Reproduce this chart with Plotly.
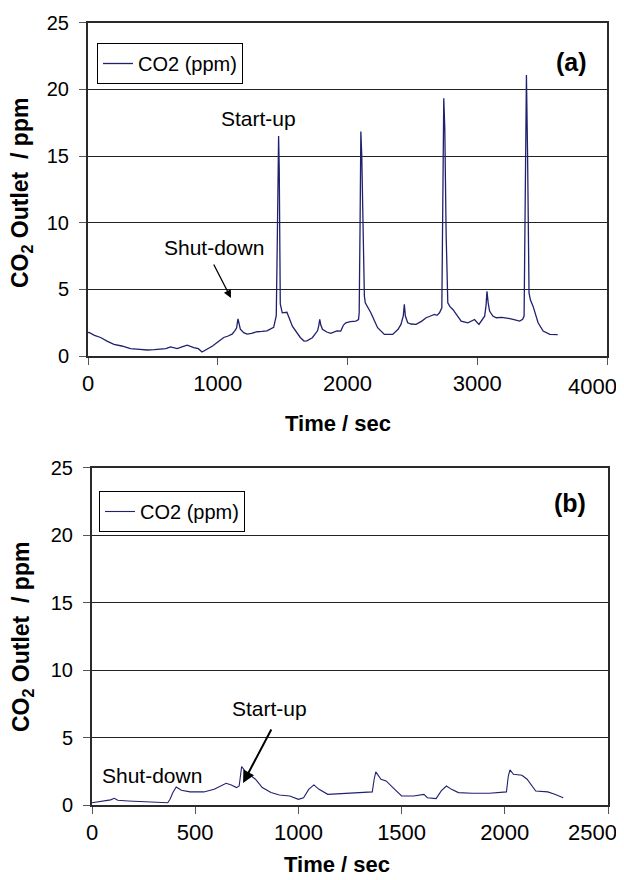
import plotly.graph_objects as go

# ---------------- data ----------------
time_a = [0, 8, 50, 97, 150, 200, 260, 328, 400, 456, 510, 559, 600, 636, 687, 730, 764, 815, 850,
          879, 918, 960, 995, 1046, 1080, 1110, 1131, 1145, 1156, 1165, 1174, 1200, 1226, 1260, 1303,
          1340, 1379, 1431, 1451, 1458, 1464, 1469, 1474, 1478, 1482, 1497, 1533, 1575, 1610, 1636,
          1665, 1687, 1729, 1769, 1779, 1786, 1795, 1807, 1840, 1871, 1918, 1948, 1969, 1987, 2021,
          2064, 2085, 2090, 2097, 2103, 2110, 2121, 2130, 2137, 2160, 2180, 2205, 2232, 2284, 2320,
          2348, 2390, 2412, 2430, 2438, 2446, 2464, 2490, 2528, 2570, 2606, 2640, 2670, 2690, 2709,
          2727, 2734, 2742, 2750, 2760, 2773, 2790, 2812, 2845, 2876, 2928, 2955, 2979, 3013, 3040,
          3057, 3068, 3075, 3084, 3095, 3120, 3147, 3190, 3224, 3250, 3276, 3300, 3327, 3350, 3361,
          3370, 3379, 3388, 3399, 3410, 3430, 3469, 3508, 3559, 3580, 3598, 3620]
co2_a = [1.75, 1.77, 1.55, 1.39, 1.1, 0.88, 0.75, 0.56, 0.5, 0.45, 0.48, 0.5, 0.55, 0.68, 0.56, 0.7, 0.81,
         0.63, 0.55, 0.3, 0.5, 0.75, 1.01, 1.39, 1.5, 1.64, 1.89, 2.1, 2.78, 2.4, 2.02, 1.75, 1.64, 1.7, 1.82,
         1.85, 1.89, 2.15, 3.03, 8.0, 14.5, 16.5, 14.0, 8.0, 3.9, 3.24, 3.28, 2.24, 1.7, 1.39, 1.12, 1.14, 1.37,
         1.89, 2.3, 2.74, 2.3, 2.0, 1.8, 1.7, 1.89, 1.87, 2.32, 2.49, 2.58, 2.62, 2.73, 3.24, 10.0, 16.83,
         15.0, 9.2, 4.5, 3.99, 3.6, 3.24, 2.7, 2.12, 1.62, 1.6, 1.62, 2.0, 2.37, 3.0, 3.87, 3.0, 2.49, 2.4,
         2.37, 2.6, 2.87, 3.0, 3.12, 3.05, 3.24, 3.62, 11.0, 19.33, 17.0, 9.23, 3.99, 3.7, 3.49, 3.0, 2.62,
         2.49, 2.6, 2.74, 2.37, 2.7, 2.99, 3.8, 4.86, 4.0, 3.37, 3.0, 2.87, 2.9, 2.87, 2.8, 2.74, 2.7, 2.62,
         2.75, 2.99, 12.0, 21.07, 15.0, 4.74, 4.2, 3.74, 2.49, 1.87, 1.62, 1.6, 1.62, 1.6]

time_b = [0, 58, 90, 108, 125, 175, 217, 275, 342, 367, 378, 392, 408, 433, 475, 542, 592, 625, 650,
          675, 700, 713, 720, 725, 738, 750, 767, 792, 825, 867, 908, 958, 1000, 1025, 1050, 1075, 1100,
          1142, 1208, 1275, 1358, 1367, 1375, 1400, 1425, 1458, 1500, 1558, 1608, 1625, 1667, 1692,
          1717, 1742, 1775, 1842, 1925, 2008, 2017, 2025, 2042, 2083, 2108, 2150, 2208, 2242, 2283]
co2_b = [0.17, 0.3, 0.38, 0.5, 0.35, 0.3, 0.27, 0.22, 0.22, 0.17, 0.42, 0.92, 1.34, 1.09, 0.97, 0.97,
         1.16, 1.41, 1.61, 1.49, 1.29, 1.41, 2.2, 2.85, 2.6, 2.15, 2.2, 1.91, 1.29, 0.92, 0.74, 0.67,
         0.42, 0.54, 1.16, 1.49, 1.16, 0.79, 0.84, 0.92, 0.97, 1.91, 2.45, 1.91, 1.78, 1.29, 0.67, 0.67,
         0.79, 0.54, 0.47, 1.04, 1.41, 1.16, 0.92, 0.87, 0.87, 0.97, 2.15, 2.6, 2.28, 2.2, 1.91, 1.04,
         0.97, 0.79, 0.54]

y_ticks = [0, 5, 10, 15, 20, 25]
x_ticks_a = [0, 1000, 2000, 3000, 4000]
x_ticks_b = [0, 500, 1000, 1500, 2000, 2500]
series_name = "CO2 (ppm)"

# ---------------- figure ----------------
W, H = 624, 880
OFF = 8  # the page's default body margin shifts the figure by 8 px; positions below are screen px
FONT = "Liberation Sans, Arial, sans-serif"
LINE = "#20206e"
NB = "\u00a0"


def px(x):
    return (x - OFF) / W


def py(y):
    return 1 - (y - OFF) / H


def xlabels(vals):
    # the last label is drawn separately (pulled inside the page, as in the reference)
    out = [str(v) for v in vals]
    out[-1] = ""
    return out


fig = go.Figure()
fig.add_trace(go.Scatter(x=time_a, y=co2_a, mode="lines", name=series_name,
                         line=dict(color=LINE, width=1.3), xaxis="x", yaxis="y",
                         legend="legend", showlegend=True))
fig.add_trace(go.Scatter(x=time_b, y=co2_b, mode="lines", name=series_name,
                         line=dict(color=LINE, width=1.1), xaxis="x2", yaxis="y2",
                         legend="legend2", showlegend=True))

base = dict(showline=True, linecolor="#2a2a2a", linewidth=2, mirror=True, automargin=False,
            ticks="outside", ticklen=7, tickcolor="#555", tickwidth=1, zeroline=False,
            ticklabeloverflow="allow")
xfont = dict(family=FONT, size=22, color="black")
yfont = dict(family=FONT, size=20, color="black")

fig.update_layout(
    width=W, height=H,
    margin=dict(l=0, r=0, t=0, b=0),
    paper_bgcolor="white", plot_bgcolor="white",
    font=dict(family=FONT, color="black"),
    xaxis=dict(domain=[px(88), px(607)], range=[0, 4000], tickvals=x_ticks_a,
               ticktext=xlabels(x_ticks_a), anchor="y", showgrid=False, tickfont=xfont, **base),
    yaxis=dict(domain=[py(356), py(22.7)], range=[0, 25], tickvals=y_ticks, anchor="x",
               showgrid=True, gridcolor="#222", gridwidth=1, ticklabelstandoff=6,
               tickfont=yfont, **base),
    xaxis2=dict(domain=[px(92), px(608)], range=[0, 2500], tickvals=x_ticks_b,
                ticktext=xlabels(x_ticks_b), anchor="y2", showgrid=False, tickfont=xfont, **base),
    yaxis2=dict(domain=[py(805), py(467.7)], range=[0, 25], tickvals=y_ticks, anchor="x2",
                showgrid=True, gridcolor="#222", gridwidth=1, ticklabelstandoff=6,
                tickfont=yfont, **base),
    legend=dict(x=px(97), y=py(43), xanchor="left", yanchor="top",
                bordercolor="black", borderwidth=1, bgcolor="white",
                font=dict(family=FONT, size=20, color="black"),
                itemwidth=30, tracegroupgap=0),
    legend2=dict(x=px(99), y=py(491), xanchor="left", yanchor="top",
                 bordercolor="black", borderwidth=1, bgcolor="white",
                 font=dict(family=FONT, size=20, color="black"),
                 itemwidth=30, tracegroupgap=0),
)

ann = []


def text_ann(t, x, y, size, bold=False, angle=0):
    ann.append(dict(text=f"<b>{t}</b>" if bold else t, x=px(x), y=py(y), xref="paper", yref="paper",
                    xanchor="center", yanchor="middle", showarrow=False, textangle=angle,
                    font=dict(family=FONT, size=size, color="black")))


# last x tick labels, anchored to the axis value and kept inside the page
ann.append(dict(text=str(x_ticks_a[-1]), x=x_ticks_a[-1], xref="x", y=py(386), yref="paper",
                xanchor="right", yanchor="middle", xshift=12, showarrow=False, font=xfont))
ann.append(dict(text=str(x_ticks_b[-1]), x=x_ticks_b[-1], xref="x2", y=py(832), yref="paper",
                xanchor="right", yanchor="middle", xshift=11, showarrow=False, font=xfont))

# panel labels
text_ann("(a)", 571, 62, 25, bold=True)
text_ann("(b)", 570, 503, 25, bold=True)
# in-plot notes
text_ann("Start-up", 258, 118, 21)
text_ann("Shut-down", 214, 248, 21)
text_ann("Start-up", 269, 708, 21)
text_ann("Shut-down", 152, 775, 21)
# axis titles
text_ann("Time / sec", 338, 424, 22, bold=True)
text_ann("Time / sec", 337, 864, 22, bold=True)
ytitle = "CO<sub>2</sub> Outlet " + NB + "/ ppm"
text_ann(ytitle, 22, 193, 23, bold=True, angle=-90)
text_ann(ytitle, 22, 637, 23, bold=True, angle=-90)

# arrows
ann.append(dict(x=1102, y=4.35, xref="x", yref="y", ax=-18, ay=-35, axref="pixel", ayref="pixel",
                text="", showarrow=True, arrowhead=2, arrowsize=1.2, arrowwidth=1.3, arrowcolor="black"))
ann.append(dict(x=732, y=1.63, xref="x2", yref="y2", ax=29, ay=-55, axref="pixel", ayref="pixel",
                text="", showarrow=True, arrowhead=2, arrowsize=1.2, arrowwidth=2, arrowcolor="black"))

fig.update_layout(annotations=ann)
fig.write_html("out.html")
